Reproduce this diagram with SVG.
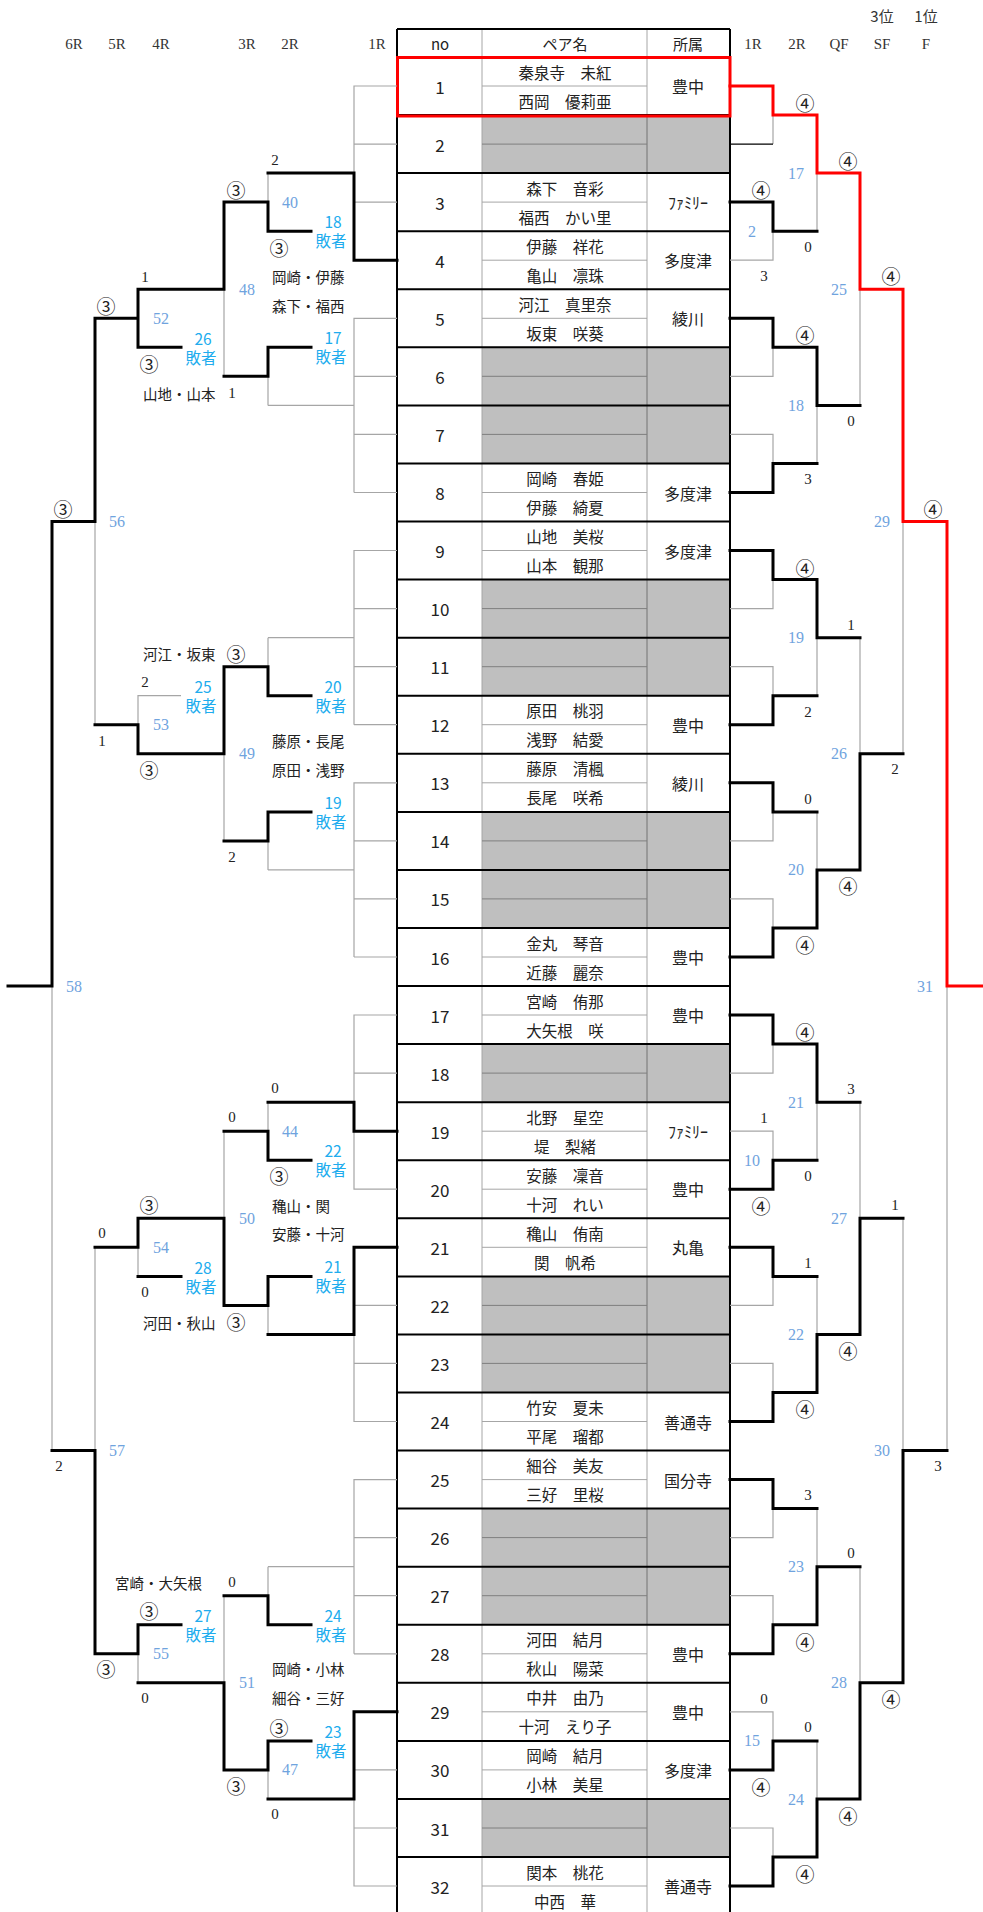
<svg xmlns="http://www.w3.org/2000/svg" width="983" height="1912" viewBox="0 0 983 1912">
<style>
text{dominant-baseline:central}
.tk{stroke:#000;stroke-width:3;fill:none;stroke-linejoin:miter;stroke-linecap:square}
.tn{stroke:#A6A6A6;stroke-width:1.2;fill:none}
.rd{stroke:#F00;stroke-width:3;fill:none;stroke-linecap:square}
.bd{stroke:#000;stroke-width:2;fill:none}
.gl{stroke:#A6A6A6;stroke-width:1;fill:none}
.gd{stroke:#7F7F7F;stroke-width:1;fill:none}
.gc{fill:#BFBFBF}
.hd{font-family:"Liberation Serif","Noto Sans CJK JP",serif;font-size:15px;fill:#333;text-anchor:middle}
.hj{font-family:"Noto Sans CJK JP",sans-serif;font-size:15px;fill:#333;text-anchor:middle}
.th{font-family:"Noto Sans CJK JP",sans-serif;font-size:15px;fill:#222;text-anchor:middle}
.no{font-family:"Noto Sans CJK JP",sans-serif;font-size:17px;fill:#222;text-anchor:middle}
.nm{font-family:"Noto Sans CJK JP",sans-serif;font-size:15.5px;fill:#222;text-anchor:middle}
.af{font-family:"Noto Sans CJK JP",sans-serif;font-size:16px;fill:#222;text-anchor:middle}
.sc{font-family:"Liberation Serif","Noto Sans CJK JP",serif;font-size:15px;fill:#222;text-anchor:middle}
.ci{font-family:"Noto Sans CJK JP",sans-serif;font-size:19px;fill:#222;text-anchor:middle}
.mn{font-family:"Liberation Serif",serif;font-size:16px;fill:#6FA3DE;text-anchor:middle}
.ls{font-family:"Noto Sans CJK JP",sans-serif;font-size:15.5px;fill:#20ACEE;text-anchor:middle;dominant-baseline:auto}
.pn{font-family:"Noto Sans CJK JP",sans-serif;font-size:14.5px;fill:#222}
</style>
<rect width="983" height="1912" fill="#fff"/>

<g id="headers">
<text class="hd" x="74" y="44">6R</text>
<text class="hd" x="117" y="44">5R</text>
<text class="hd" x="161" y="44">4R</text>
<text class="hd" x="247" y="44">3R</text>
<text class="hd" x="290" y="44">2R</text>
<text class="hd" x="377" y="44">1R</text>
<text class="hd" x="753" y="44">1R</text>
<text class="hd" x="797" y="44">2R</text>
<text class="hd" x="839" y="44">QF</text>
<text class="hd" x="882" y="44">SF</text>
<text class="hd" x="926" y="44">F</text>
<text class="hj" x="882" y="15">3位</text>
<text class="hj" x="926" y="15">1位</text>
</g>

<g id="table">
<g id="cells-empty">
<rect class="gc" x="482" y="115.1" width="248" height="58"/>
<rect class="gc" x="482" y="347.3" width="248" height="116.2"/>
<rect class="gc" x="482" y="579.6" width="248" height="116.1"/>
<rect class="gc" x="482" y="811.9" width="248" height="116.1"/>
<rect class="gc" x="482" y="1044.1" width="248" height="58.1"/>
<rect class="gc" x="482" y="1276.4" width="248" height="116.1"/>
<rect class="gc" x="482" y="1508.6" width="248" height="116.2"/>
<rect class="gc" x="482" y="1799" width="248" height="58"/>
</g>
<path class="gl" d="M482 29V1912M647 29V1912"/>
<path class="gl" d="M482 86H647M482 202.1H647M482 260.2H647M482 318.3H647M482 492.5H647M482 550.5H647M482 724.7H647M482 782.8H647M482 957H647M482 1015H647M482 1131.2H647M482 1189.2H647M482 1247.3H647M482 1421.5H647M482 1479.6H647M482 1653.8H647M482 1711.8H647M482 1769.9H647M482 1886H647"/>
<path class="gd" d="M482 144.1H647M482 376.3H647M482 434.4H647M482 608.6H647M482 666.7H647M482 840.9H647M482 898.9H647M482 1073.1H647M482 1305.4H647M482 1363.4H647M482 1537.6H647M482 1595.7H647M482 1828H647M647 115.1V173.1M647 347.3V463.5M647 579.6V695.7M647 811.9V928M647 1044.1V1102.2M647 1276.4V1392.5M647 1508.6V1624.8M647 1799V1857"/>
<path class="bd" d="M397 29H730M397 57H730M397 115.1H730M397 173.1H730M397 231.2H730M397 289.3H730M397 347.3H730M397 405.4H730M397 463.5H730M397 521.5H730M397 579.6H730M397 637.7H730M397 695.7H730M397 753.8H730M397 811.9H730M397 869.9H730M397 928H730M397 986H730M397 1044.1H730M397 1102.2H730M397 1160.2H730M397 1218.3H730M397 1276.4H730M397 1334.4H730M397 1392.5H730M397 1450.6H730M397 1508.6H730M397 1566.7H730M397 1624.8H730M397 1682.8H730M397 1740.9H730M397 1799H730M397 1857H730M397 29V1912M730 29V1912"/>
<g id="header-row">
<text class="th" x="440" y="43">no</text>
<text class="th" x="565" y="43">ペア名</text>
<text class="th" x="688" y="43">所属</text>
</g>
<g id="row-1"><text class="no" x="440" y="86">1</text><text class="nm" x="565" y="71.5">秦泉寺　未紅</text><text class="nm" x="565" y="100.5">西岡　優莉亜</text><text class="af" x="688" y="86">豊中</text></g>
<g id="row-2"><text class="no" x="440" y="144.1">2</text></g>
<g id="row-3"><text class="no" x="440" y="202.1">3</text><text class="nm" x="565" y="187.6">森下　音彩</text><text class="nm" x="565" y="216.6">福西　かい里</text><text class="af" x="688" y="202.1">ﾌｧﾐﾘｰ</text></g>
<g id="row-4"><text class="no" x="440" y="260.2">4</text><text class="nm" x="565" y="245.7">伊藤　祥花</text><text class="nm" x="565" y="274.7">亀山　凛珠</text><text class="af" x="688" y="260.2">多度津</text></g>
<g id="row-5"><text class="no" x="440" y="318.3">5</text><text class="nm" x="565" y="303.8">河江　真里奈</text><text class="nm" x="565" y="332.8">坂東　咲葵</text><text class="af" x="688" y="318.3">綾川</text></g>
<g id="row-6"><text class="no" x="440" y="376.3">6</text></g>
<g id="row-7"><text class="no" x="440" y="434.4">7</text></g>
<g id="row-8"><text class="no" x="440" y="492.5">8</text><text class="nm" x="565" y="478">岡崎　春姫</text><text class="nm" x="565" y="507">伊藤　綺夏</text><text class="af" x="688" y="492.5">多度津</text></g>
<g id="row-9"><text class="no" x="440" y="550.5">9</text><text class="nm" x="565" y="536">山地　美桜</text><text class="nm" x="565" y="565">山本　観那</text><text class="af" x="688" y="550.5">多度津</text></g>
<g id="row-10"><text class="no" x="440" y="608.6">10</text></g>
<g id="row-11"><text class="no" x="440" y="666.7">11</text></g>
<g id="row-12"><text class="no" x="440" y="724.7">12</text><text class="nm" x="565" y="710.2">原田　桃羽</text><text class="nm" x="565" y="739.2">浅野　結愛</text><text class="af" x="688" y="724.7">豊中</text></g>
<g id="row-13"><text class="no" x="440" y="782.8">13</text><text class="nm" x="565" y="768.3">藤原　清楓</text><text class="nm" x="565" y="797.3">長尾　咲希</text><text class="af" x="688" y="782.8">綾川</text></g>
<g id="row-14"><text class="no" x="440" y="840.9">14</text></g>
<g id="row-15"><text class="no" x="440" y="898.9">15</text></g>
<g id="row-16"><text class="no" x="440" y="957">16</text><text class="nm" x="565" y="942.5">金丸　琴音</text><text class="nm" x="565" y="971.5">近藤　麗奈</text><text class="af" x="688" y="957">豊中</text></g>
<g id="row-17"><text class="no" x="440" y="1015">17</text><text class="nm" x="565" y="1000.5">宮崎　侑那</text><text class="nm" x="565" y="1029.5">大矢根　咲</text><text class="af" x="688" y="1015">豊中</text></g>
<g id="row-18"><text class="no" x="440" y="1073.1">18</text></g>
<g id="row-19"><text class="no" x="440" y="1131.2">19</text><text class="nm" x="565" y="1116.7">北野　星空</text><text class="nm" x="565" y="1145.7">堤　梨緒</text><text class="af" x="688" y="1131.2">ﾌｧﾐﾘｰ</text></g>
<g id="row-20"><text class="no" x="440" y="1189.2">20</text><text class="nm" x="565" y="1174.7">安藤　凜音</text><text class="nm" x="565" y="1203.7">十河　れい</text><text class="af" x="688" y="1189.2">豊中</text></g>
<g id="row-21"><text class="no" x="440" y="1247.3">21</text><text class="nm" x="565" y="1232.8">穐山　侑南</text><text class="nm" x="565" y="1261.8">関　帆希</text><text class="af" x="688" y="1247.3">丸亀</text></g>
<g id="row-22"><text class="no" x="440" y="1305.4">22</text></g>
<g id="row-23"><text class="no" x="440" y="1363.4">23</text></g>
<g id="row-24"><text class="no" x="440" y="1421.5">24</text><text class="nm" x="565" y="1407">竹安　夏未</text><text class="nm" x="565" y="1436">平尾　瑠都</text><text class="af" x="688" y="1421.5">善通寺</text></g>
<g id="row-25"><text class="no" x="440" y="1479.6">25</text><text class="nm" x="565" y="1465.1">細谷　美友</text><text class="nm" x="565" y="1494.1">三好　里桜</text><text class="af" x="688" y="1479.6">国分寺</text></g>
<g id="row-26"><text class="no" x="440" y="1537.6">26</text></g>
<g id="row-27"><text class="no" x="440" y="1595.7">27</text></g>
<g id="row-28"><text class="no" x="440" y="1653.8">28</text><text class="nm" x="565" y="1639.3">河田　結月</text><text class="nm" x="565" y="1668.3">秋山　陽菜</text><text class="af" x="688" y="1653.8">豊中</text></g>
<g id="row-29"><text class="no" x="440" y="1711.8">29</text><text class="nm" x="565" y="1697.3">中井　由乃</text><text class="nm" x="565" y="1726.3">十河　えり子</text><text class="af" x="688" y="1711.8">豊中</text></g>
<g id="row-30"><text class="no" x="440" y="1769.9">30</text><text class="nm" x="565" y="1755.4">岡崎　結月</text><text class="nm" x="565" y="1784.4">小林　美星</text><text class="af" x="688" y="1769.9">多度津</text></g>
<g id="row-31"><text class="no" x="440" y="1828">31</text></g>
<g id="row-32"><text class="no" x="440" y="1886">32</text><text class="nm" x="565" y="1871.5">関本　桃花</text><text class="nm" x="565" y="1900.5">中西　華</text><text class="af" x="688" y="1886">善通寺</text></g>
</g>

<g id="connectors">
<path class="tn" d="M730 260.2H773V231.2M730 376.3H773V347.3M730 434.4H773V463.5M730 608.6H773V579.6M730 666.7H773V695.7M730 840.9H773V811.9M730 898.9H773V928M730 1073.1H773V1044.1M730 1131.2H773V1160.2M730 1305.4H773V1276.4M730 1363.4H773V1392.5M730 1537.6H773V1508.6M730 1595.7H773V1624.8M730 1711.8H773V1740.9M730 1828H773V1857M773 144.1V115.1
M817 231.2V173.1M817 463.5V405.4M817 695.7V637.7M817 811.9V869.9M817 1160.2V1102.2M817 1276.4V1334.4M817 1508.6V1566.7M817 1740.9V1799
M860 405.4V289.3M860 637.7V753.8M860 1102.2V1218.3M860 1566.7V1682.8
M903 753.8V521.5M903 1218.3V1450.6M947 1450.6V986"/>
<path d="M730 144.1H773" stroke="#000" stroke-width="1.2" fill="none"/>
<path class="tk" d="M730 202.1H773V231.2H817M730 318.3H773V347.3H817M730 492.5H773V463.5H817M730 550.5H773V579.6H817M730 724.7H773V695.7H817M730 782.8H773V811.9H817M730 957H773V928H817M730 1015H773V1044.1H817M730 1189.2H773V1160.2H817M730 1247.3H773V1276.4H817M730 1421.5H773V1392.5H817M730 1479.6H773V1508.6H817M730 1653.8H773V1624.8H817M730 1769.9H773V1740.9H817M730 1886H773V1857H817
M817 347.3V405.4H860M817 579.6V637.7H860M817 928V869.9H860M817 1044.1V1102.2H860M817 1392.5V1334.4H860M817 1624.8V1566.7H860M817 1857V1799H860
M860 869.9V753.8H903M860 1334.4V1218.3H903M860 1799V1682.8H903
M903 1682.8V1450.6H947"/>
<path class="rd" d="M730 86H773V115.1H817V173.1H860V289.3H903V521.5H947V986H983"/>
<rect x="397.5" y="57.5" width="332.5" height="58.5" fill="none" stroke="#F00" stroke-width="3"/>

<path class="tn" d="M397 86H354V173.1M397 144.1H354M397 202.1H354M397 318.3H354V492.5M397 376.3H354M397 434.4H354M397 492.5H354M354 405.4H268M397 550.5H354V724.7M397 608.6H354M397 666.7H354M397 724.7H354M354 637.7H268M397 782.8H354V957M397 840.9H354M397 898.9H354M397 957H354M354 869.9H268M397 1015H354V1102.2M354 1131.2V1189.2H397M397 1073.1H354M354 1334.4V1421.5H397M397 1305.4H354M397 1363.4H354M397 1479.6H354V1653.8M397 1537.6H354M397 1595.7H354M397 1653.8H354M354 1566.7H268M354 1799V1886H397M397 1769.9H354M397 1828H354
M268 173.1V202.1M268 376.3V405.4M268 637.7V666.7M268 840.9V869.9M268 1102.2V1131.2M268 1305.4V1334.4M268 1566.7V1595.7M268 1769.9V1799
M224 289.3V376.3M224 753.8V840.9M224 1131.2V1218.3M224 1595.7V1682.8
M181 695.7H138V724.7M138 1247.3V1276.4M138 1653.8V1682.8
M95 521.5V724.7M95 1247.3V1450.6M52 986V1450.6"/>
<path class="tk" d="M397 260.2H354V173.1H268M397 1131.2H354V1102.2H268M397 1247.3H354V1334.4H268M397 1711.8H354V1799H268
M311 231.2H268V202.1H224M311 347.3H268V376.3H224M311 695.7H268V666.7H224M311 811.9H268V840.9H224M311 1160.2H268V1131.2H224M311 1276.4H268V1305.4H224M311 1624.8H268V1595.7H224M311 1740.9H268V1769.9H224
M224 202.1V289.3H138M224 666.7V753.8H138M224 1305.4V1218.3H138M224 1769.9V1682.8H138
M138 289.3V347.3H181M138 318.3H95M138 753.8V724.7H95M138 1218.3V1247.3H95M181 1276.4H138M181 1624.8H138V1653.8H95
M95 318.3V521.5H52M95 1653.8V1450.6H52M52 521.5V986H8"/>
</g>

<g id="match-numbers">
<text class="mn" x="752" y="231.2">2</text>
<text class="mn" x="752" y="1160.2">10</text>
<text class="mn" x="752" y="1740.9">15</text>
<text class="mn" x="796" y="173.1">17</text>
<text class="mn" x="796" y="405.4">18</text>
<text class="mn" x="796" y="637.7">19</text>
<text class="mn" x="796" y="869.9">20</text>
<text class="mn" x="796" y="1102.2">21</text>
<text class="mn" x="796" y="1334.4">22</text>
<text class="mn" x="796" y="1566.7">23</text>
<text class="mn" x="796" y="1799">24</text>
<text class="mn" x="839" y="289.3">25</text>
<text class="mn" x="839" y="753.8">26</text>
<text class="mn" x="839" y="1218.3">27</text>
<text class="mn" x="839" y="1682.8">28</text>
<text class="mn" x="882" y="521.5">29</text>
<text class="mn" x="882" y="1450.6">30</text>
<text class="mn" x="925" y="986">31</text>
<text class="mn" x="290" y="202.1">40</text>
<text class="mn" x="290" y="1131.2">44</text>
<text class="mn" x="290" y="1769.9">47</text>
<text class="mn" x="247" y="289.3">48</text>
<text class="mn" x="247" y="753.8">49</text>
<text class="mn" x="247" y="1218.3">50</text>
<text class="mn" x="247" y="1682.8">51</text>
<text class="mn" x="161" y="318.3">52</text>
<text class="mn" x="161" y="724.7">53</text>
<text class="mn" x="161" y="1247.3">54</text>
<text class="mn" x="161" y="1653.8">55</text>
<text class="mn" x="117" y="521.5">56</text>
<text class="mn" x="117" y="1450.6">57</text>
<text class="mn" x="74" y="986">58</text>
</g>

<g id="scores">
<text class="ci" x="761" y="189">④</text><text class="sc" x="764" y="276">3</text>
<text class="sc" x="764" y="1118">1</text><text class="ci" x="761" y="1205">④</text>
<text class="sc" x="764" y="1699">0</text><text class="ci" x="761" y="1786">④</text>
<text class="ci" x="805" y="102">④</text><text class="sc" x="808" y="247">0</text>
<text class="ci" x="805" y="334">④</text><text class="sc" x="808" y="479">3</text>
<text class="ci" x="805" y="567">④</text><text class="sc" x="808" y="712">2</text>
<text class="sc" x="808" y="799">0</text><text class="ci" x="805" y="944">④</text>
<text class="ci" x="805" y="1031">④</text><text class="sc" x="808" y="1176">0</text>
<text class="sc" x="808" y="1263">1</text><text class="ci" x="805" y="1408">④</text>
<text class="sc" x="808" y="1495">3</text><text class="ci" x="805" y="1641">④</text>
<text class="sc" x="808" y="1727">0</text><text class="ci" x="805" y="1873">④</text>
<text class="ci" x="848" y="160">④</text><text class="sc" x="851" y="421">0</text>
<text class="sc" x="851" y="625">1</text><text class="ci" x="848" y="885">④</text>
<text class="sc" x="851" y="1089">3</text><text class="ci" x="848" y="1350">④</text>
<text class="sc" x="851" y="1553">0</text><text class="ci" x="848" y="1815">④</text>
<text class="ci" x="891" y="275">④</text><text class="sc" x="895" y="769">2</text>
<text class="sc" x="895" y="1205">1</text><text class="ci" x="891" y="1698">④</text>
<text class="ci" x="933" y="508">④</text><text class="sc" x="938" y="1466">3</text>
<text class="sc" x="275" y="160">2</text><text class="ci" x="279" y="247">③</text>
<text class="sc" x="275" y="1088">0</text><text class="ci" x="279" y="1175">③</text>
<text class="ci" x="279" y="1727">③</text><text class="sc" x="275" y="1814">0</text>
<text class="ci" x="236" y="189">③</text><text class="sc" x="232" y="393">1</text>
<text class="ci" x="236" y="653">③</text><text class="sc" x="232" y="857">2</text>
<text class="sc" x="232" y="1117">0</text><text class="ci" x="236" y="1321">③</text>
<text class="sc" x="232" y="1582">0</text><text class="ci" x="236" y="1785">③</text>
<text class="sc" x="145" y="277">1</text><text class="ci" x="149" y="363">③</text>
<text class="sc" x="145" y="682">2</text><text class="ci" x="149" y="769">③</text>
<text class="ci" x="149" y="1204">③</text><text class="sc" x="145" y="1292">0</text>
<text class="ci" x="149" y="1610">③</text><text class="sc" x="145" y="1698">0</text>
<text class="ci" x="106" y="305">③</text><text class="sc" x="102" y="741">1</text>
<text class="sc" x="102" y="1233">0</text><text class="ci" x="106" y="1668">③</text>
<text class="ci" x="63" y="508">③</text><text class="sc" x="59" y="1466">2</text>
</g>

<g id="loser-labels">
<text class="ls" x="333" y="228"><tspan x="333">18</tspan><tspan x="331" dy="19">敗者</tspan></text>
<text class="ls" x="333" y="344"><tspan x="333">17</tspan><tspan x="331" dy="19">敗者</tspan></text>
<text class="ls" x="333" y="692.5"><tspan x="333">20</tspan><tspan x="331" dy="19">敗者</tspan></text>
<text class="ls" x="333" y="808.5"><tspan x="333">19</tspan><tspan x="331" dy="19">敗者</tspan></text>
<text class="ls" x="333" y="1157"><tspan x="333">22</tspan><tspan x="331" dy="19">敗者</tspan></text>
<text class="ls" x="333" y="1273"><tspan x="333">21</tspan><tspan x="331" dy="19">敗者</tspan></text>
<text class="ls" x="333" y="1621.5"><tspan x="333">24</tspan><tspan x="331" dy="19">敗者</tspan></text>
<text class="ls" x="333" y="1737.5"><tspan x="333">23</tspan><tspan x="331" dy="19">敗者</tspan></text>
<text class="ls" x="203" y="344.5"><tspan x="203">26</tspan><tspan x="201" dy="19">敗者</tspan></text>
<text class="ls" x="203" y="692.5"><tspan x="203">25</tspan><tspan x="201" dy="19">敗者</tspan></text>
<text class="ls" x="203" y="1273.5"><tspan x="203">28</tspan><tspan x="201" dy="19">敗者</tspan></text>
<text class="ls" x="203" y="1621.5"><tspan x="203">27</tspan><tspan x="201" dy="19">敗者</tspan></text>
</g>

<g id="pair-names">
<text class="pn" x="272" y="276">岡崎・伊藤</text>
<text class="pn" x="272" y="305">森下・福西</text>
<text class="pn" x="143" y="393">山地・山本</text>
<text class="pn" x="143" y="653">河江・坂東</text>
<text class="pn" x="272" y="740">藤原・長尾</text>
<text class="pn" x="272" y="769">原田・浅野</text>
<text class="pn" x="272" y="1205">穐山・関</text>
<text class="pn" x="272" y="1233">安藤・十河</text>
<text class="pn" x="143" y="1322">河田・秋山</text>
<text class="pn" x="115" y="1582">宮崎・大矢根</text>
<text class="pn" x="272" y="1668">岡崎・小林</text>
<text class="pn" x="272" y="1697">細谷・三好</text>
</g>
</svg>
